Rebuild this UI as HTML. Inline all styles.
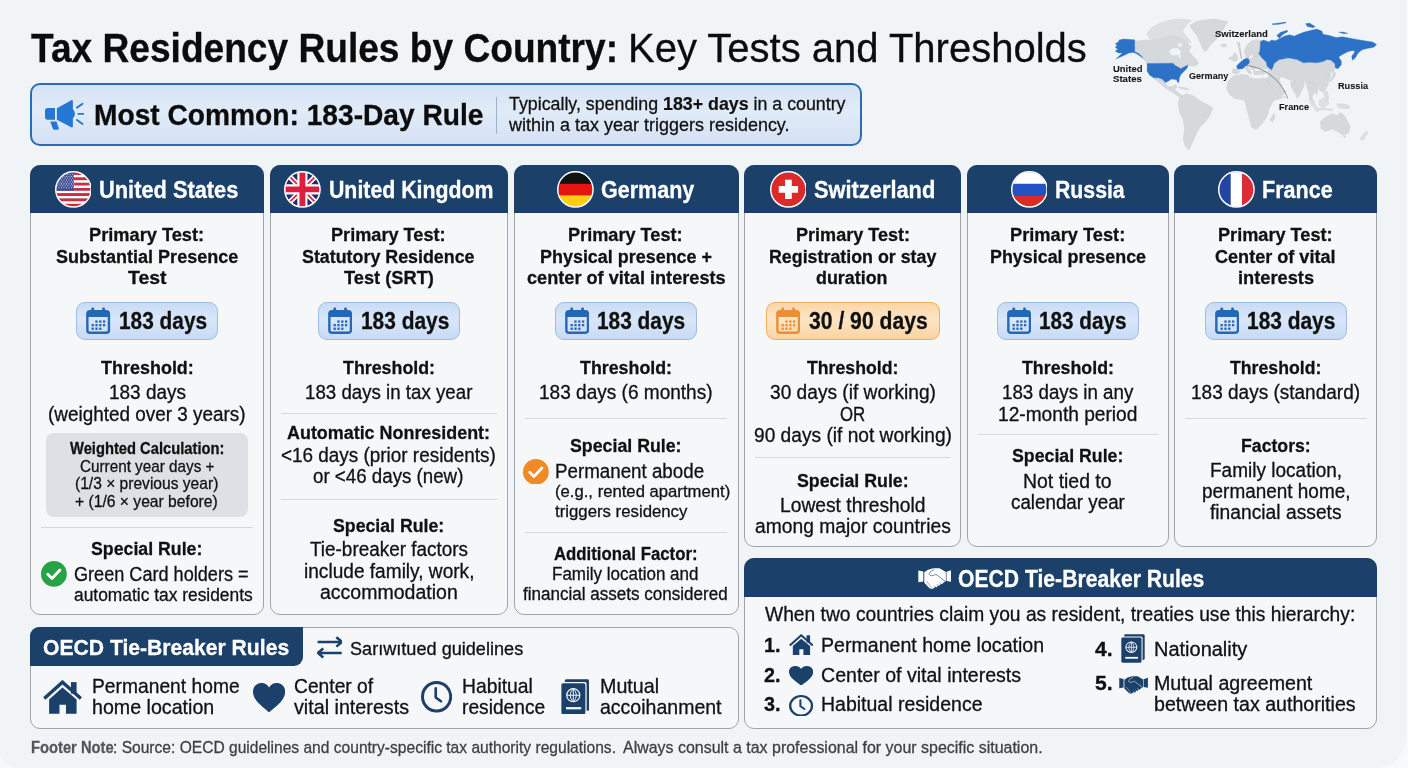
<!DOCTYPE html><html lang="en"><head><meta charset="utf-8"><title>Tax Residency Rules by Country</title><style>
*{box-sizing:border-box;margin:0;padding:0}
html,body{width:1408px;height:768px;overflow:hidden}
body{position:relative;background:#f8f9fb;font-family:"Liberation Sans",sans-serif;color:#111}
section,header,footer,figure{position:absolute;left:0;top:0;width:0;height:0}
body>div,section>*,header>*,footer>*,figure>*{position:absolute}
.t{white-space:pre;line-height:1;transform-origin:0 0;-webkit-text-stroke:0.3px currentColor}
.t b{-webkit-text-stroke:0.2px currentColor}
.hl{height:1px}
.page{left:0;top:0;width:1406px;height:768px;background:#f1f4f7;border-radius:0 0 30px 14px}
.card{background:#f5f7f9;border:1px solid #a0a5ac;border-radius:10px}
.hd{background:#1b4069;border-radius:10px 10px 0 0}
.pill{border-radius:9px;background:linear-gradient(#c9dcf6,#d8e6f9 45%,#d4e3f8 60%,#c7dbf5);border:1px solid #9dbde8}
.pillo{border-radius:9px;background:linear-gradient(#fbd6a6,#fde4c4 45%,#fce0bb 60%,#fad3a2);border:1px solid #efae62}
</style></head><body>
<div class="page"></div>
<header aria-label="title">
<h1 class="t" style="left:30.64px;top:26.90px;font-size:41.5px;font-weight:700;color:#0c0c0c;transform:scaleX(0.8942)">Tax Residency Rules by Country:</h1>
<div class="t" style="left:627.84px;top:26.90px;font-size:41.5px;font-weight:400;color:#0c0c0c;transform:scaleX(0.9639)">Key Tests and Thresholds</div>
</header>
<section aria-label="Most Common: 183-Day Rule">
<div style="left:30.0px;top:83.0px;width:831.5px;height:63.0px;background:linear-gradient(#d6e3f5,#e1ebf8 45%,#dde8f7 60%,#d5e2f4);border:2.5px solid #2b6cb5;border-radius:10px"></div>
<svg style="left:44.8px;top:99.9px" width="39.4" height="30.0" viewBox="70 175 315 240" preserveAspectRatio="none"><path d="M150 238H92a22 22 0 0 0-22 22v50a22 22 0 0 0 22 22h58z" fill="#2478d3"/>
<path d="M165 240L280 177q12-5 13 8v62q34 38 0 76v62q-1 13-13 8L165 332z" fill="#2478d3"/>
<path d="M112 346h50l18 52q3 14-10 14h-24q-10 0-14-10z" fill="#2478d3"/>
<path d="M326 236l44-31M336 286h48M326 334l44 33" stroke="#2478d3" stroke-width="15" stroke-linecap="round" fill="none"/></svg>
<div style="left:495.5px;top:96.5px;width:1.5px;height:37.0px;background:#9db1ca"></div>
<h2 class="t" style="left:94.19px;top:100.25px;font-size:30.2px;font-weight:700;color:#0c0c0c;transform:scaleX(0.9326)">Most Common: 183-Day Rule</h2>
<div class="t" style="left:509.24px;top:94.00px;font-size:19px;font-weight:400;color:#111;transform:scaleX(0.9366)">Typically, spending <b>183+ days</b> in a country</div>
<div class="t" style="left:509.24px;top:115.00px;font-size:19px;font-weight:400;color:#111;transform:scaleX(0.9465)">within a tax year triggers residency.</div>
</section>
<section aria-label="United States">
<div class="card" style="left:30.0px;top:165.0px;width:234.0px;height:450.0px;"></div>
<div class="hd" style="left:30.0px;top:165.0px;width:234.0px;height:48.0px;"></div>
<svg style="left:54.6px;top:171.0px" width="36.8" height="36.8" viewBox="0 0 40 40" ><defs><clipPath id="fcus"><circle cx="20" cy="20" r="18.600"/></clipPath></defs><g clip-path="url(#fcus)"><rect x="0" y="1.40" width="40" height="2.900" fill="#d8283c"/><rect x="0" y="4.26" width="40" height="2.900" fill="#fff"/><rect x="0" y="7.12" width="40" height="2.900" fill="#d8283c"/><rect x="0" y="9.99" width="40" height="2.900" fill="#fff"/><rect x="0" y="12.85" width="40" height="2.900" fill="#d8283c"/><rect x="0" y="15.71" width="40" height="2.900" fill="#fff"/><rect x="0" y="18.57" width="40" height="2.900" fill="#d8283c"/><rect x="0" y="21.43" width="40" height="2.900" fill="#fff"/><rect x="0" y="24.30" width="40" height="2.900" fill="#d8283c"/><rect x="0" y="27.16" width="40" height="2.900" fill="#fff"/><rect x="0" y="30.02" width="40" height="2.900" fill="#d8283c"/><rect x="0" y="32.88" width="40" height="2.900" fill="#fff"/><rect x="0" y="35.74" width="40" height="2.900" fill="#d8283c"/><rect x="0" y="0" width="20.500" height="21.400" fill="#3c4f94"/><circle cx="3.00" cy="3.50" r="0.550" fill="#fff"/><circle cx="5.70" cy="3.50" r="0.550" fill="#fff"/><circle cx="8.40" cy="3.50" r="0.550" fill="#fff"/><circle cx="11.10" cy="3.50" r="0.550" fill="#fff"/><circle cx="13.80" cy="3.50" r="0.550" fill="#fff"/><circle cx="16.50" cy="3.50" r="0.550" fill="#fff"/><circle cx="19.20" cy="3.50" r="0.550" fill="#fff"/><circle cx="4.35" cy="5.60" r="0.550" fill="#fff"/><circle cx="7.05" cy="5.60" r="0.550" fill="#fff"/><circle cx="9.75" cy="5.60" r="0.550" fill="#fff"/><circle cx="12.45" cy="5.60" r="0.550" fill="#fff"/><circle cx="15.15" cy="5.60" r="0.550" fill="#fff"/><circle cx="17.85" cy="5.60" r="0.550" fill="#fff"/><circle cx="20.55" cy="5.60" r="0.550" fill="#fff"/><circle cx="3.00" cy="7.70" r="0.550" fill="#fff"/><circle cx="5.70" cy="7.70" r="0.550" fill="#fff"/><circle cx="8.40" cy="7.70" r="0.550" fill="#fff"/><circle cx="11.10" cy="7.70" r="0.550" fill="#fff"/><circle cx="13.80" cy="7.70" r="0.550" fill="#fff"/><circle cx="16.50" cy="7.70" r="0.550" fill="#fff"/><circle cx="19.20" cy="7.70" r="0.550" fill="#fff"/><circle cx="4.35" cy="9.80" r="0.550" fill="#fff"/><circle cx="7.05" cy="9.80" r="0.550" fill="#fff"/><circle cx="9.75" cy="9.80" r="0.550" fill="#fff"/><circle cx="12.45" cy="9.80" r="0.550" fill="#fff"/><circle cx="15.15" cy="9.80" r="0.550" fill="#fff"/><circle cx="17.85" cy="9.80" r="0.550" fill="#fff"/><circle cx="20.55" cy="9.80" r="0.550" fill="#fff"/><circle cx="3.00" cy="11.90" r="0.550" fill="#fff"/><circle cx="5.70" cy="11.90" r="0.550" fill="#fff"/><circle cx="8.40" cy="11.90" r="0.550" fill="#fff"/><circle cx="11.10" cy="11.90" r="0.550" fill="#fff"/><circle cx="13.80" cy="11.90" r="0.550" fill="#fff"/><circle cx="16.50" cy="11.90" r="0.550" fill="#fff"/><circle cx="19.20" cy="11.90" r="0.550" fill="#fff"/><circle cx="4.35" cy="14.00" r="0.550" fill="#fff"/><circle cx="7.05" cy="14.00" r="0.550" fill="#fff"/><circle cx="9.75" cy="14.00" r="0.550" fill="#fff"/><circle cx="12.45" cy="14.00" r="0.550" fill="#fff"/><circle cx="15.15" cy="14.00" r="0.550" fill="#fff"/><circle cx="17.85" cy="14.00" r="0.550" fill="#fff"/><circle cx="20.55" cy="14.00" r="0.550" fill="#fff"/><circle cx="3.00" cy="16.10" r="0.550" fill="#fff"/><circle cx="5.70" cy="16.10" r="0.550" fill="#fff"/><circle cx="8.40" cy="16.10" r="0.550" fill="#fff"/><circle cx="11.10" cy="16.10" r="0.550" fill="#fff"/><circle cx="13.80" cy="16.10" r="0.550" fill="#fff"/><circle cx="16.50" cy="16.10" r="0.550" fill="#fff"/><circle cx="19.20" cy="16.10" r="0.550" fill="#fff"/><circle cx="4.35" cy="18.20" r="0.550" fill="#fff"/><circle cx="7.05" cy="18.20" r="0.550" fill="#fff"/><circle cx="9.75" cy="18.20" r="0.550" fill="#fff"/><circle cx="12.45" cy="18.20" r="0.550" fill="#fff"/><circle cx="15.15" cy="18.20" r="0.550" fill="#fff"/><circle cx="17.85" cy="18.20" r="0.550" fill="#fff"/><circle cx="20.55" cy="18.20" r="0.550" fill="#fff"/></g><circle cx="20" cy="20" r="19.200" fill="none" stroke="#fff" stroke-width="1.600"/></svg>
<div class="pill" style="left:76.0px;top:302.0px;width:142.2px;height:38.0px;"></div>
<svg style="left:86.4px;top:307.0px" width="24.3" height="27.0" viewBox="0 0 24 27" ><rect x="1.2" y="4.2" width="21.6" height="21.6" rx="2.6" fill="none" stroke="#2467b3" stroke-width="2.4"/>
<path d="M1.2 6.8a2.6 2.6 0 0 1 2.6-2.6h16.4a2.6 2.6 0 0 1 2.6 2.6v3.200H1.2z" fill="#2467b3"/>
<rect x="5.2" y="0.6" width="2.8" height="6" rx="1.2" fill="#2467b3"/><rect x="16" y="0.6" width="2.8" height="6" rx="1.2" fill="#2467b3"/>
<g fill="#2467b3"><rect x="9.2" y="13.4" width="2.3" height="2.3"/><rect x="13" y="13.4" width="2.3" height="2.3"/><rect x="16.8" y="13.4" width="2.3" height="2.3"/>
<rect x="5.4" y="17" width="2.3" height="2.3"/><rect x="9.2" y="17" width="2.3" height="2.3"/><rect x="13" y="17" width="2.3" height="2.3"/><rect x="16.8" y="17" width="2.3" height="2.3"/>
<rect x="5.4" y="20.6" width="2.3" height="2.3"/><rect x="9.2" y="20.6" width="2.3" height="2.3"/><rect x="13" y="20.6" width="2.3" height="2.3"/></g></svg>
<div style="left:45.6px;top:433.3px;width:202.8px;height:83.5px;background:#dde1e6;border-radius:8px"></div>
<div class="hl" style="left:41.3px;top:526.9px;width:211.3px;background:#d5d9de"></div>
<svg style="left:41.4px;top:561.2px" width="25.8" height="25.8" viewBox="0 0 24 24" ><circle cx="12" cy="12" r="12" fill="#27a346"/><path d="M6.3 12.4l3.9 3.9 7.4-7.9" fill="none" stroke="#fff" stroke-width="2.6" stroke-linecap="round" stroke-linejoin="round"/></svg>
<h3 class="t" style="left:99.06px;top:178.50px;font-size:23.5px;font-weight:700;color:#fff;transform:scaleX(0.9281)">United States</h3>
<div class="t" style="left:89.23px;top:225.30px;font-size:19.2px;font-weight:700;color:#111;transform:scaleX(0.9498)">Primary Test:</div>
<div class="t" style="left:55.83px;top:246.60px;font-size:19.2px;font-weight:700;color:#111;transform:scaleX(0.9389)">Substantial Presence</div>
<div class="t" style="left:127.73px;top:267.60px;font-size:19.2px;font-weight:700;color:#111;transform:scaleX(1.0133)">Test</div>
<div class="t" style="left:118.86px;top:310.00px;font-size:23.5px;font-weight:700;color:#111;transform:scaleX(0.8869)">183 days</div>
<div class="t" style="left:100.93px;top:357.50px;font-size:19.2px;font-weight:700;color:#111;transform:scaleX(0.9364)">Threshold:</div>
<div class="t" style="left:108.72px;top:383.10px;font-size:19.6px;font-weight:400;color:#111;transform:scaleX(0.9690)">183 days</div>
<div class="t" style="left:48.22px;top:404.50px;font-size:19.6px;font-weight:400;color:#111;transform:scaleX(0.9649)">(weighted over 3 years)</div>
<div class="t" style="left:69.75px;top:440.20px;font-size:16.2px;font-weight:700;color:#111;transform:scaleX(0.9099)">Weighted Calculation:</div>
<div class="t" style="left:79.74px;top:459.30px;font-size:16.6px;font-weight:400;color:#111;transform:scaleX(0.9196)">Current year days +</div>
<div class="t" style="left:75.14px;top:476.40px;font-size:16.6px;font-weight:400;color:#111;transform:scaleX(0.9389)">(1/3 × previous year)</div>
<div class="t" style="left:75.14px;top:493.80px;font-size:16.6px;font-weight:400;color:#111;transform:scaleX(0.9435)">+ (1/6 × year before)</div>
<div class="t" style="left:91.23px;top:538.70px;font-size:19.2px;font-weight:700;color:#111;transform:scaleX(0.9240)">Special Rule:</div>
<div class="t" style="left:73.52px;top:564.80px;font-size:19.6px;font-weight:400;color:#111;transform:scaleX(0.9238)">Green Card holders =</div>
<div class="t" style="left:73.55px;top:585.60px;font-size:18.8px;font-weight:400;color:#111;transform:scaleX(0.9253)">automatic tax residents</div>
</section>
<section aria-label="United Kingdom">
<div class="card" style="left:270.0px;top:165.0px;width:238.0px;height:450.0px;"></div>
<div class="hd" style="left:270.0px;top:165.0px;width:238.0px;height:48.0px;"></div>
<svg style="left:284.0px;top:171.0px" width="36.8" height="36.8" viewBox="0 0 40 40" ><defs><clipPath id="fcuk"><circle cx="20" cy="20" r="18.600"/></clipPath></defs><g clip-path="url(#fcuk)"><rect width="40" height="40" fill="#1f2f6e"/>
<path d="M2 2L38 38M38 2L2 38" stroke="#fff" stroke-width="5.6"/>
<path d="M2 2L38 38M38 2L2 38" stroke="#dc2340" stroke-width="1.9"/>
<path d="M20 0v40M0 20h40" stroke="#fff" stroke-width="11"/>
<path d="M20 0v40M0 20h40" stroke="#dc1f3c" stroke-width="6.4"/></g><circle cx="20" cy="20" r="19.200" fill="none" stroke="#fff" stroke-width="1.600"/></svg>
<div class="pill" style="left:318.0px;top:302.0px;width:142.2px;height:38.0px;"></div>
<svg style="left:328.0px;top:307.0px" width="24.3" height="27.0" viewBox="0 0 24 27" ><rect x="1.2" y="4.2" width="21.6" height="21.6" rx="2.6" fill="none" stroke="#2467b3" stroke-width="2.4"/>
<path d="M1.2 6.8a2.6 2.6 0 0 1 2.6-2.6h16.4a2.6 2.6 0 0 1 2.6 2.6v3.200H1.2z" fill="#2467b3"/>
<rect x="5.2" y="0.6" width="2.8" height="6" rx="1.2" fill="#2467b3"/><rect x="16" y="0.6" width="2.8" height="6" rx="1.2" fill="#2467b3"/>
<g fill="#2467b3"><rect x="9.2" y="13.4" width="2.3" height="2.3"/><rect x="13" y="13.4" width="2.3" height="2.3"/><rect x="16.8" y="13.4" width="2.3" height="2.3"/>
<rect x="5.4" y="17" width="2.3" height="2.3"/><rect x="9.2" y="17" width="2.3" height="2.3"/><rect x="13" y="17" width="2.3" height="2.3"/><rect x="16.8" y="17" width="2.3" height="2.3"/>
<rect x="5.4" y="20.6" width="2.3" height="2.3"/><rect x="9.2" y="20.6" width="2.3" height="2.3"/><rect x="13" y="20.6" width="2.3" height="2.3"/></g></svg>
<div class="hl" style="left:281.0px;top:412.5px;width:215.6px;background:#d5d9de"></div>
<div class="hl" style="left:281.0px;top:499.2px;width:215.6px;background:#d5d9de"></div>
<h3 class="t" style="left:329.06px;top:178.50px;font-size:23.5px;font-weight:700;color:#fff;transform:scaleX(0.9059)">United Kingdom</h3>
<div class="t" style="left:331.23px;top:225.30px;font-size:19.2px;font-weight:700;color:#111;transform:scaleX(0.9449)">Primary Test:</div>
<div class="t" style="left:302.23px;top:246.60px;font-size:19.2px;font-weight:700;color:#111;transform:scaleX(0.9299)">Statutory Residence</div>
<div class="t" style="left:343.83px;top:267.60px;font-size:19.2px;font-weight:700;color:#111;transform:scaleX(0.9515)">Test (SRT)</div>
<div class="t" style="left:360.66px;top:310.00px;font-size:23.5px;font-weight:700;color:#111;transform:scaleX(0.8889)">183 days</div>
<div class="t" style="left:343.13px;top:357.50px;font-size:19.2px;font-weight:700;color:#111;transform:scaleX(0.9283)">Threshold:</div>
<div class="t" style="left:305.12px;top:383.20px;font-size:19.6px;font-weight:400;color:#111;transform:scaleX(0.9544)">183 days in tax year</div>
<div class="t" style="left:287.23px;top:423.30px;font-size:19.2px;font-weight:700;color:#111;transform:scaleX(0.9336)">Automatic Nonresident:</div>
<div class="t" style="left:280.92px;top:445.60px;font-size:19.6px;font-weight:400;color:#111;transform:scaleX(0.9648)">&lt;16 days (prior residents)</div>
<div class="t" style="left:313.22px;top:466.70px;font-size:19.6px;font-weight:400;color:#111;transform:scaleX(0.9555)">or &lt;46 days (new)</div>
<div class="t" style="left:332.83px;top:515.60px;font-size:19.2px;font-weight:700;color:#111;transform:scaleX(0.9231)">Special Rule:</div>
<div class="t" style="left:310.22px;top:540.30px;font-size:19.6px;font-weight:400;color:#111;transform:scaleX(0.9650)">Tie-breaker factors</div>
<div class="t" style="left:303.82px;top:561.60px;font-size:19.6px;font-weight:400;color:#111;transform:scaleX(0.9744)">include family, work,</div>
<div class="t" style="left:319.82px;top:582.90px;font-size:19.6px;font-weight:400;color:#111;transform:scaleX(0.9960)">accommodation</div>
</section>
<section aria-label="Germany">
<div class="card" style="left:514.0px;top:165.0px;width:225.0px;height:450.0px;"></div>
<div class="hd" style="left:514.0px;top:165.0px;width:225.0px;height:48.0px;"></div>
<svg style="left:556.9px;top:171.0px" width="36.8" height="36.8" viewBox="0 0 40 40" ><defs><clipPath id="fcde"><circle cx="20" cy="20" r="18.600"/></clipPath></defs><g clip-path="url(#fcde)"><rect width="40" height="14" fill="#111"/><rect y="14" width="40" height="12.500" fill="#e4150f"/><rect y="26.500" width="40" height="14" fill="#fdcd10"/></g><circle cx="20" cy="20" r="19.200" fill="none" stroke="#fff" stroke-width="1.600"/></svg>
<div class="pill" style="left:555.0px;top:302.0px;width:142.0px;height:38.0px;"></div>
<svg style="left:565.0px;top:307.0px" width="24.3" height="27.0" viewBox="0 0 24 27" ><rect x="1.2" y="4.2" width="21.6" height="21.6" rx="2.6" fill="none" stroke="#2467b3" stroke-width="2.4"/>
<path d="M1.2 6.8a2.6 2.6 0 0 1 2.6-2.6h16.4a2.6 2.6 0 0 1 2.6 2.6v3.200H1.2z" fill="#2467b3"/>
<rect x="5.2" y="0.6" width="2.8" height="6" rx="1.2" fill="#2467b3"/><rect x="16" y="0.6" width="2.8" height="6" rx="1.2" fill="#2467b3"/>
<g fill="#2467b3"><rect x="9.2" y="13.4" width="2.3" height="2.3"/><rect x="13" y="13.4" width="2.3" height="2.3"/><rect x="16.8" y="13.4" width="2.3" height="2.3"/>
<rect x="5.4" y="17" width="2.3" height="2.3"/><rect x="9.2" y="17" width="2.3" height="2.3"/><rect x="13" y="17" width="2.3" height="2.3"/><rect x="16.8" y="17" width="2.3" height="2.3"/>
<rect x="5.4" y="20.6" width="2.3" height="2.3"/><rect x="9.2" y="20.6" width="2.3" height="2.3"/><rect x="13" y="20.6" width="2.3" height="2.3"/></g></svg>
<div class="hl" style="left:525.0px;top:417.9px;width:202.0px;background:#d5d9de"></div>
<svg style="left:523.1px;top:458.7px" width="25.8" height="25.8" viewBox="0 0 24 24" ><circle cx="12" cy="12" r="12" fill="#f08a24"/><path d="M6.3 12.4l3.9 3.9 7.4-7.9" fill="none" stroke="#fff" stroke-width="2.6" stroke-linecap="round" stroke-linejoin="round"/></svg>
<div class="hl" style="left:525.0px;top:532.2px;width:202.0px;background:#d5d9de"></div>
<h3 class="t" style="left:601.16px;top:178.50px;font-size:23.5px;font-weight:700;color:#fff;transform:scaleX(0.9155)">Germany</h3>
<div class="t" style="left:568.23px;top:225.30px;font-size:19.2px;font-weight:700;color:#111;transform:scaleX(0.9449)">Primary Test:</div>
<div class="t" style="left:540.03px;top:246.60px;font-size:19.2px;font-weight:700;color:#111;transform:scaleX(0.9350)">Physical presence +</div>
<div class="t" style="left:526.53px;top:267.60px;font-size:19.2px;font-weight:700;color:#111;transform:scaleX(0.9455)">center of vital interests</div>
<div class="t" style="left:597.46px;top:310.00px;font-size:23.5px;font-weight:700;color:#111;transform:scaleX(0.8879)">183 days</div>
<div class="t" style="left:580.23px;top:357.50px;font-size:19.2px;font-weight:700;color:#111;transform:scaleX(0.9283)">Threshold:</div>
<div class="t" style="left:539.22px;top:383.10px;font-size:19.6px;font-weight:400;color:#111;transform:scaleX(0.9717)">183 days (6 months)</div>
<div class="t" style="left:570.23px;top:436.00px;font-size:19.2px;font-weight:700;color:#111;transform:scaleX(0.9256)">Special Rule:</div>
<div class="t" style="left:555.22px;top:462.40px;font-size:19.6px;font-weight:400;color:#111;transform:scaleX(0.9569)">Permanent abode</div>
<div class="t" style="left:555.30px;top:483.20px;font-size:17.4px;font-weight:400;color:#111;transform:scaleX(0.9589)">(e.g., rented apartment)</div>
<div class="t" style="left:555.30px;top:502.70px;font-size:17.4px;font-weight:400;color:#111;transform:scaleX(0.9646)">triggers residency</div>
<div class="t" style="left:554.23px;top:544.00px;font-size:19.2px;font-weight:700;color:#111;transform:scaleX(0.8744)">Additional Factor:</div>
<div class="t" style="left:552.30px;top:566.00px;font-size:17.6px;font-weight:400;color:#111;transform:scaleX(0.9659)">Family location and</div>
<div class="t" style="left:523.30px;top:585.50px;font-size:17.6px;font-weight:400;color:#111;transform:scaleX(0.9690)">financial assets considered</div>
</section>
<section aria-label="Switzerland">
<div class="card" style="left:744.0px;top:165.0px;width:217.0px;height:382.0px;"></div>
<div class="hd" style="left:744.0px;top:165.0px;width:217.0px;height:48.0px;"></div>
<svg style="left:769.6px;top:171.0px" width="36.8" height="36.8" viewBox="0 0 40 40" ><defs><clipPath id="fcch"><circle cx="20" cy="20" r="18.600"/></clipPath></defs><g clip-path="url(#fcch)"><rect width="40" height="40" fill="#dc2a2a"/><path d="M16.300 9.500h7.400v6.800h6.800v7.400h-6.800v6.800h-7.400v-6.800H9.500v-7.400h6.800z" fill="#fff"/></g><circle cx="20" cy="20" r="19.200" fill="none" stroke="#fff" stroke-width="1.600"/></svg>
<div class="pillo" style="left:766.0px;top:302.0px;width:174.0px;height:38.0px;"></div>
<svg style="left:776.0px;top:307.0px" width="24.3" height="27.0" viewBox="0 0 24 27" ><rect x="1.2" y="4.2" width="21.6" height="21.6" rx="2.6" fill="none" stroke="#e98f3a" stroke-width="2.4"/>
<path d="M1.2 6.8a2.6 2.6 0 0 1 2.6-2.6h16.4a2.6 2.6 0 0 1 2.6 2.6v3.200H1.2z" fill="#e98f3a"/>
<rect x="5.2" y="0.6" width="2.8" height="6" rx="1.2" fill="#e98f3a"/><rect x="16" y="0.6" width="2.8" height="6" rx="1.2" fill="#e98f3a"/>
<g fill="#e98f3a"><rect x="9.2" y="13.4" width="2.3" height="2.3"/><rect x="13" y="13.4" width="2.3" height="2.3"/><rect x="16.8" y="13.4" width="2.3" height="2.3"/>
<rect x="5.4" y="17" width="2.3" height="2.3"/><rect x="9.2" y="17" width="2.3" height="2.3"/><rect x="13" y="17" width="2.3" height="2.3"/><rect x="16.8" y="17" width="2.3" height="2.3"/>
<rect x="5.4" y="20.6" width="2.3" height="2.3"/><rect x="9.2" y="20.6" width="2.3" height="2.3"/><rect x="13" y="20.6" width="2.3" height="2.3"/></g></svg>
<div class="hl" style="left:755.0px;top:456.9px;width:195.0px;background:#d5d9de"></div>
<h3 class="t" style="left:813.66px;top:178.50px;font-size:23.5px;font-weight:700;color:#fff;transform:scaleX(0.9287)">Switzerland</h3>
<div class="t" style="left:795.73px;top:225.30px;font-size:19.2px;font-weight:700;color:#111;transform:scaleX(0.9407)">Primary Test:</div>
<div class="t" style="left:769.13px;top:246.60px;font-size:19.2px;font-weight:700;color:#111;transform:scaleX(0.9286)">Registration or stay</div>
<div class="t" style="left:816.23px;top:267.60px;font-size:19.2px;font-weight:700;color:#111;transform:scaleX(0.9321)">duration</div>
<div class="t" style="left:809.26px;top:310.00px;font-size:23.5px;font-weight:700;color:#111;transform:scaleX(0.8993)">30 / 90 days</div>
<div class="t" style="left:807.13px;top:357.50px;font-size:19.2px;font-weight:700;color:#111;transform:scaleX(0.9213)">Threshold:</div>
<div class="t" style="left:769.82px;top:383.10px;font-size:19.6px;font-weight:400;color:#111;transform:scaleX(0.9769)">30 days (if working)</div>
<div class="t" style="left:840.22px;top:404.50px;font-size:19.6px;font-weight:400;color:#111;transform:scaleX(0.8597)">OR</div>
<div class="t" style="left:753.82px;top:425.70px;font-size:19.6px;font-weight:400;color:#111;transform:scaleX(0.9773)">90 days (if not working)</div>
<div class="t" style="left:796.83px;top:470.50px;font-size:19.2px;font-weight:700;color:#111;transform:scaleX(0.9264)">Special Rule:</div>
<div class="t" style="left:779.72px;top:496.00px;font-size:19.6px;font-weight:400;color:#111;transform:scaleX(0.9820)">Lowest threshold</div>
<div class="t" style="left:754.92px;top:517.40px;font-size:19.6px;font-weight:400;color:#111;transform:scaleX(0.9828)">among major countries</div>
</section>
<section aria-label="Russia">
<div class="card" style="left:967.0px;top:165.0px;width:202.0px;height:382.0px;"></div>
<div class="hd" style="left:967.0px;top:165.0px;width:202.0px;height:48.0px;"></div>
<svg style="left:1010.6px;top:171.0px" width="36.8" height="36.8" viewBox="0 0 40 40" ><defs><clipPath id="fcru"><circle cx="20" cy="20" r="18.600"/></clipPath></defs><g clip-path="url(#fcru)"><rect width="40" height="14" fill="#fff"/><rect y="14" width="40" height="12.500" fill="#2451c4"/><rect y="26.500" width="40" height="14" fill="#dc2b25"/></g><circle cx="20" cy="20" r="19.200" fill="none" stroke="#fff" stroke-width="1.600"/></svg>
<div class="pill" style="left:997.0px;top:302.0px;width:142.0px;height:38.0px;"></div>
<svg style="left:1007.0px;top:307.0px" width="24.3" height="27.0" viewBox="0 0 24 27" ><rect x="1.2" y="4.2" width="21.6" height="21.6" rx="2.6" fill="none" stroke="#2467b3" stroke-width="2.4"/>
<path d="M1.2 6.8a2.6 2.6 0 0 1 2.6-2.6h16.4a2.6 2.6 0 0 1 2.6 2.6v3.200H1.2z" fill="#2467b3"/>
<rect x="5.2" y="0.6" width="2.8" height="6" rx="1.2" fill="#2467b3"/><rect x="16" y="0.6" width="2.8" height="6" rx="1.2" fill="#2467b3"/>
<g fill="#2467b3"><rect x="9.2" y="13.4" width="2.3" height="2.3"/><rect x="13" y="13.4" width="2.3" height="2.3"/><rect x="16.8" y="13.4" width="2.3" height="2.3"/>
<rect x="5.4" y="17" width="2.3" height="2.3"/><rect x="9.2" y="17" width="2.3" height="2.3"/><rect x="13" y="17" width="2.3" height="2.3"/><rect x="16.8" y="17" width="2.3" height="2.3"/>
<rect x="5.4" y="20.6" width="2.3" height="2.3"/><rect x="9.2" y="20.6" width="2.3" height="2.3"/><rect x="13" y="20.6" width="2.3" height="2.3"/></g></svg>
<div class="hl" style="left:977.6px;top:433.7px;width:180.1px;background:#d5d9de"></div>
<h3 class="t" style="left:1054.76px;top:178.50px;font-size:23.5px;font-weight:700;color:#fff;transform:scaleX(0.9040)">Russia</h3>
<div class="t" style="left:1010.03px;top:225.30px;font-size:19.2px;font-weight:700;color:#111;transform:scaleX(0.9506)">Primary Test:</div>
<div class="t" style="left:989.73px;top:246.50px;font-size:19.2px;font-weight:700;color:#111;transform:scaleX(0.9317)">Physical presence</div>
<div class="t" style="left:1039.46px;top:310.00px;font-size:23.5px;font-weight:700;color:#111;transform:scaleX(0.8809)">183 days</div>
<div class="t" style="left:1021.63px;top:357.50px;font-size:19.2px;font-weight:700;color:#111;transform:scaleX(0.9273)">Threshold:</div>
<div class="t" style="left:1002.22px;top:383.10px;font-size:19.6px;font-weight:400;color:#111;transform:scaleX(0.9570)">183 days in any</div>
<div class="t" style="left:998.22px;top:404.60px;font-size:19.6px;font-weight:400;color:#111;transform:scaleX(0.9767)">12-month period</div>
<div class="t" style="left:1012.23px;top:446.00px;font-size:19.2px;font-weight:700;color:#111;transform:scaleX(0.9240)">Special Rule:</div>
<div class="t" style="left:1023.22px;top:471.70px;font-size:19.6px;font-weight:400;color:#111;transform:scaleX(0.9917)">Not tied to</div>
<div class="t" style="left:1010.72px;top:492.70px;font-size:19.6px;font-weight:400;color:#111;transform:scaleX(0.9590)">calendar year</div>
</section>
<section aria-label="France">
<div class="card" style="left:1174.0px;top:165.0px;width:203.0px;height:382.0px;"></div>
<div class="hd" style="left:1174.0px;top:165.0px;width:203.0px;height:48.0px;"></div>
<svg style="left:1218.4px;top:171.0px" width="36.8" height="36.8" viewBox="0 0 40 40" ><defs><clipPath id="fcfr"><circle cx="20" cy="20" r="18.600"/></clipPath></defs><g clip-path="url(#fcfr)"><rect width="13.800" height="40" fill="#2244a4"/><rect x="13.800" width="12.400" height="40" fill="#fff"/><rect x="26.200" width="14" height="40" fill="#e02b35"/></g><circle cx="20" cy="20" r="19.200" fill="none" stroke="#fff" stroke-width="1.600"/></svg>
<div class="pill" style="left:1205.0px;top:302.0px;width:142.0px;height:38.0px;"></div>
<svg style="left:1215.0px;top:307.0px" width="24.3" height="27.0" viewBox="0 0 24 27" ><rect x="1.2" y="4.2" width="21.6" height="21.6" rx="2.6" fill="none" stroke="#2467b3" stroke-width="2.4"/>
<path d="M1.2 6.8a2.6 2.6 0 0 1 2.6-2.6h16.4a2.6 2.6 0 0 1 2.6 2.6v3.200H1.2z" fill="#2467b3"/>
<rect x="5.2" y="0.6" width="2.8" height="6" rx="1.2" fill="#2467b3"/><rect x="16" y="0.6" width="2.8" height="6" rx="1.2" fill="#2467b3"/>
<g fill="#2467b3"><rect x="9.2" y="13.4" width="2.3" height="2.3"/><rect x="13" y="13.4" width="2.3" height="2.3"/><rect x="16.8" y="13.4" width="2.3" height="2.3"/>
<rect x="5.4" y="17" width="2.3" height="2.3"/><rect x="9.2" y="17" width="2.3" height="2.3"/><rect x="13" y="17" width="2.3" height="2.3"/><rect x="16.8" y="17" width="2.3" height="2.3"/>
<rect x="5.4" y="20.6" width="2.3" height="2.3"/><rect x="9.2" y="20.6" width="2.3" height="2.3"/><rect x="13" y="20.6" width="2.3" height="2.3"/></g></svg>
<div class="hl" style="left:1185.0px;top:417.7px;width:181.5px;background:#d5d9de"></div>
<h3 class="t" style="left:1262.46px;top:178.50px;font-size:23.5px;font-weight:700;color:#fff;transform:scaleX(0.9170)">France</h3>
<div class="t" style="left:1218.23px;top:225.30px;font-size:19.2px;font-weight:700;color:#111;transform:scaleX(0.9449)">Primary Test:</div>
<div class="t" style="left:1215.13px;top:246.50px;font-size:19.2px;font-weight:700;color:#111;transform:scaleX(0.9420)">Center of vital</div>
<div class="t" style="left:1237.73px;top:267.80px;font-size:19.2px;font-weight:700;color:#111;transform:scaleX(0.9506)">interests</div>
<div class="t" style="left:1247.06px;top:310.00px;font-size:23.5px;font-weight:700;color:#111;transform:scaleX(0.8899)">183 days</div>
<div class="t" style="left:1230.03px;top:357.50px;font-size:19.2px;font-weight:700;color:#111;transform:scaleX(0.9213)">Threshold:</div>
<div class="t" style="left:1191.22px;top:383.10px;font-size:19.6px;font-weight:400;color:#111;transform:scaleX(0.9701)">183 days (standard)</div>
<div class="t" style="left:1241.03px;top:435.50px;font-size:19.2px;font-weight:700;color:#111;transform:scaleX(0.9212)">Factors:</div>
<div class="t" style="left:1210.22px;top:461.10px;font-size:19.6px;font-weight:400;color:#111;transform:scaleX(0.9702)">Family location,</div>
<div class="t" style="left:1201.82px;top:482.00px;font-size:19.6px;font-weight:400;color:#111;transform:scaleX(0.9667)">permanent home,</div>
<div class="t" style="left:1210.22px;top:502.70px;font-size:19.6px;font-weight:400;color:#111;transform:scaleX(0.9821)">financial assets</div>
</section>
<section aria-label="OECD Tie-Breaker Rules hierarchy">
<div class="card" style="left:744.0px;top:558.0px;width:633.0px;height:171.0px;"></div>
<div class="hd" style="left:744.0px;top:558.0px;width:633.0px;height:39.0px;"></div>
<svg style="left:917.6px;top:567.6px" width="33.8" height="21.2" viewBox="185 185 540 340" preserveAspectRatio="none"><path d="M190 225L270 240V400L190 415Z" fill="#fff"/><path d="M640 245L720 220V405L640 395Z" fill="#fff"/>
<path d="M285 255L345 212L430 190H530L630 250V395L590 422L565 445L545 440L525 470L505 465L485 495L460 490L435 508L405 522L370 508L330 468L285 420Z" fill="#fff"/>
<path d="M440 212Q350 250 365 290Q400 330 470 285L612 392" fill="none" stroke="#1b4069" stroke-width="10" stroke-linecap="round" stroke-linejoin="round"/>
<path d="M545 440l-16-20M505 466l-16-20M462 490l-16-20M325 400L400 500" fill="none" stroke="#1b4069" stroke-width="7" stroke-linecap="round"/></svg>
<svg style="left:788.5px;top:634.0px" width="24.6" height="21.2" viewBox="56 398 314 272" preserveAspectRatio="none"><path d="M66 546L212 415L360 546" fill="none" stroke="#1b4069" stroke-width="27"/>
<rect x="280" y="415" width="45" height="92" fill="#1b4069"/>
<path d="M212 458L105 553V668H188V595H240V668H325V553Z" fill="#1b4069"/></svg>
<svg style="left:788.7px;top:665.6px" width="24.2" height="19.6" viewBox="72 420 258 235" preserveAspectRatio="none"><path d="M201 655C150 610 72 560 72 490C72 445 105 420 140 420C168 420 190 435 201 455C212 435 234 420 262 420C297 420 330 445 330 490C330 560 252 610 201 655Z" fill="#1b4069"/></svg>
<svg style="left:788.7px;top:694.5px" width="24.2" height="21.7" viewBox="72 329 250 250" preserveAspectRatio="none"><circle cx="197" cy="454" r="113" fill="none" stroke="#1b4069" stroke-width="24"/><path d="M190 388V460L232 490" fill="none" stroke="#1b4069" stroke-width="21" stroke-linecap="round" stroke-linejoin="round"/></svg>
<svg style="left:1121.0px;top:634.0px" width="24.0" height="29.0" viewBox="100 310 228 285" preserveAspectRatio="none"><rect x="130" y="312" width="195" height="253" rx="14" fill="#1b4069"/>
<rect x="92" y="335" width="213" height="268" rx="16" fill="#f5f7f9"/>
<rect x="103" y="345" width="192" height="247" rx="13" fill="#1b4069"/>
<circle cx="198" cy="440" r="52" fill="none" stroke="#f5f7f9" stroke-width="10"/>
<path d="M146 440h104M198 388v104M198 388c-32 30-32 74 0 104M198 388c32 30 32 74 0 104" fill="none" stroke="#f5f7f9" stroke-width="8"/>
<rect x="140" y="535" width="122" height="18" fill="#f5f7f9"/></svg>
<svg style="left:1119.0px;top:675.8px" width="29.2" height="18.0" viewBox="185 185 540 340" preserveAspectRatio="none"><path d="M190 225L270 240V400L190 415Z" fill="#1b4069"/><path d="M640 245L720 220V405L640 395Z" fill="#1b4069"/>
<path d="M285 255L345 212L430 190H530L630 250V395L590 422L565 445L545 440L525 470L505 465L485 495L460 490L435 508L405 522L370 508L330 468L285 420Z" fill="#1b4069"/>
<path d="M440 212Q350 250 365 290Q400 330 470 285L612 392" fill="none" stroke="#f5f7f9" stroke-width="10" stroke-linecap="round" stroke-linejoin="round"/>
<path d="M545 440l-16-20M505 466l-16-20M462 490l-16-20M325 400L400 500" fill="none" stroke="#f5f7f9" stroke-width="7" stroke-linecap="round"/></svg>
<h2 class="t" style="left:958.08px;top:568.00px;font-size:23px;font-weight:700;color:#fff;transform:scaleX(0.9191)">OECD Tie-Breaker Rules</h2>
<div class="t" style="left:765.18px;top:603.80px;font-size:20.4px;font-weight:400;color:#111;transform:scaleX(0.9435)">When two countries claim you as resident, treaties use this hierarchy:</div>
<div class="t" style="left:763.90px;top:635.00px;font-size:20px;font-weight:700;color:#111;transform:scaleX(0.9888)">1.</div>
<div class="t" style="left:820.70px;top:635.00px;font-size:20px;font-weight:400;color:#111;transform:scaleX(0.9788)">Permanent home location</div>
<div class="t" style="left:763.90px;top:664.50px;font-size:20px;font-weight:700;color:#111;transform:scaleX(0.9888)">2.</div>
<div class="t" style="left:820.70px;top:664.50px;font-size:20px;font-weight:400;color:#111;transform:scaleX(0.9783)">Center of vital interests</div>
<div class="t" style="left:763.90px;top:694.30px;font-size:20px;font-weight:700;color:#111;transform:scaleX(0.9888)">3.</div>
<div class="t" style="left:820.70px;top:694.30px;font-size:20px;font-weight:400;color:#111;transform:scaleX(0.9749)">Habitual residence</div>
<div class="t" style="left:1095.20px;top:639.00px;font-size:20px;font-weight:700;color:#111;transform:scaleX(1.0547)">4.</div>
<div class="t" style="left:1154.20px;top:639.00px;font-size:20px;font-weight:400;color:#111;transform:scaleX(0.9990)">Nationality</div>
<div class="t" style="left:1095.20px;top:672.60px;font-size:20px;font-weight:700;color:#111;transform:scaleX(1.0547)">5.</div>
<div class="t" style="left:1154.20px;top:672.60px;font-size:20px;font-weight:400;color:#111;transform:scaleX(0.9820)">Mutual agreement</div>
<div class="t" style="left:1154.20px;top:694.30px;font-size:20px;font-weight:400;color:#111;transform:scaleX(0.9801)">between tax authorities</div>
</section>
<section aria-label="OECD Tie-Breaker Rules summary">
<div class="card" style="left:30.0px;top:627.0px;width:709.0px;height:102.0px;"></div>
<div style="left:30.0px;top:627.0px;width:272.5px;height:39.0px;background:#1b4069;border-radius:9px 0 9px 0"></div>
<svg style="left:316.5px;top:636.2px" width="25.6" height="22.8" viewBox="580 50 205 182" preserveAspectRatio="none"><path d="M585 97H772M735 60L780 97L735 135M778 185H595M630 150L588 185L630 222" fill="none" stroke="#1b4069" stroke-width="20" stroke-linecap="butt" stroke-linejoin="miter"/></svg>
<svg style="left:43.0px;top:679.8px" width="39.2" height="34.0" viewBox="56 398 314 272" preserveAspectRatio="none"><path d="M66 546L212 415L360 546" fill="none" stroke="#1b4069" stroke-width="27"/>
<rect x="280" y="415" width="45" height="92" fill="#1b4069"/>
<path d="M212 458L105 553V668H188V595H240V668H325V553Z" fill="#1b4069"/></svg>
<svg style="left:253.0px;top:682.5px" width="32.2" height="29.4" viewBox="72 420 258 235" preserveAspectRatio="none"><path d="M201 655C150 610 72 560 72 490C72 445 105 420 140 420C168 420 190 435 201 455C212 435 234 420 262 420C297 420 330 445 330 490C330 560 252 610 201 655Z" fill="#1b4069"/></svg>
<svg style="left:421.0px;top:681.0px" width="31.2" height="31.5" viewBox="72 329 250 250" preserveAspectRatio="none"><circle cx="197" cy="454" r="113" fill="none" stroke="#1b4069" stroke-width="24"/><path d="M190 388V460L232 490" fill="none" stroke="#1b4069" stroke-width="21" stroke-linecap="round" stroke-linejoin="round"/></svg>
<svg style="left:560.5px;top:678.8px" width="28.5" height="35.6" viewBox="100 310 228 285" preserveAspectRatio="none"><rect x="130" y="312" width="195" height="253" rx="14" fill="#1b4069"/>
<rect x="92" y="335" width="213" height="268" rx="16" fill="#f5f7f9"/>
<rect x="103" y="345" width="192" height="247" rx="13" fill="#1b4069"/>
<circle cx="198" cy="440" r="52" fill="none" stroke="#f5f7f9" stroke-width="10"/>
<path d="M146 440h104M198 388v104M198 388c-32 30-32 74 0 104M198 388c32 30 32 74 0 104" fill="none" stroke="#f5f7f9" stroke-width="8"/>
<rect x="140" y="535" width="122" height="18" fill="#f5f7f9"/></svg>
<h2 class="t" style="left:43.39px;top:635.50px;font-size:22.8px;font-weight:700;color:#fff;transform:scaleX(0.9265)">OECD Tie-Breaker Rules</h2>
<div class="t" style="left:349.50px;top:640.50px;font-size:17.6px;font-weight:400;color:#111;transform:scaleX(1.0296)">Sarıwıtued guidelines</div>
<div class="t" style="left:91.98px;top:676.20px;font-size:20.4px;font-weight:400;color:#111;transform:scaleX(0.9438)">Permanent home</div>
<div class="t" style="left:91.98px;top:696.70px;font-size:20.4px;font-weight:400;color:#111;transform:scaleX(0.9627)">home location</div>
<div class="t" style="left:294.18px;top:676.20px;font-size:20.4px;font-weight:400;color:#111;transform:scaleX(0.9435)">Center of</div>
<div class="t" style="left:294.18px;top:696.70px;font-size:20.4px;font-weight:400;color:#111;transform:scaleX(0.9667)">vital interests</div>
<div class="t" style="left:461.98px;top:676.20px;font-size:20.4px;font-weight:400;color:#111;transform:scaleX(0.9468)">Habitual</div>
<div class="t" style="left:461.98px;top:696.70px;font-size:20.4px;font-weight:400;color:#111;transform:scaleX(0.9402)">residence</div>
<div class="t" style="left:600.38px;top:676.20px;font-size:20.4px;font-weight:400;color:#111;transform:scaleX(0.9645)">Mutual</div>
<div class="t" style="left:600.38px;top:696.70px;font-size:20.4px;font-weight:400;color:#111;transform:scaleX(0.9572)">accoihanment</div>
</section>
<footer aria-label="footer">
<p class="t" style="left:30.70px;top:738.80px;font-size:17.4px;font-weight:700;color:#53565b;transform:scaleX(0.8464)">Footer Note</p>
<p class="t" style="left:112.70px;top:738.80px;font-size:17.4px;font-weight:400;color:#3c3f44;transform:scaleX(0.8956)">: Source: OECD guidelines and country-specific tax authority regulations.</p>
<p class="t" style="left:623.10px;top:738.80px;font-size:17.4px;font-weight:400;color:#3c3f44;transform:scaleX(0.9177)">Always consult a tax professional for your specific situation.</p>
</footer>
<figure aria-label="map">
<svg style="left:1100px;top:0px" width="308" height="160" viewBox="1100 0 308 160"><path d="M1147.1 33.5L1151.0 28.3L1160.1 23.1L1170.5 19.9L1180.9 19.2L1191.3 20.5L1186.1 25.7L1182.2 30.9L1186.1 36.1L1191.3 42.6L1186.1 42.0L1180.9 38.7L1173.1 36.1L1165.3 37.4L1157.5 40.7L1149.7 38.7Z" fill="#dde0e3" stroke="#c6cbcf" stroke-width="0.4" stroke-linejoin="round"/><path d="M1134.7 41.3L1147.1 40.0L1157.5 40.7L1165.3 37.4L1173.1 36.1L1180.9 38.7L1186.1 42.0L1191.3 46.6L1188.7 51.1L1192.6 55.7L1196.5 59.6L1198.5 64.1L1193.9 66.1L1190.0 65.4L1188.1 65.0L1184.2 66.7L1180.9 68.7L1179.0 67.4L1175.1 65.4L1173.1 63.2L1147.1 63.5L1143.2 58.3L1141.2 55.7L1137.9 53.1L1134.7 51.8Z" fill="#d5d9dc" stroke="#c6cbcf" stroke-width="0.4" stroke-linejoin="round"/><path d="M1169.2 51.1L1171.8 48.5L1177.0 48.1L1180.9 51.1L1180.3 54.4L1180.9 58.3L1179.0 57.6L1177.7 55.0L1173.1 55.4L1170.2 53.7Z" fill="#f1f4f7"/><path d="M1177.7 44.6L1180.3 42.9L1182.9 44.6L1180.9 46.6L1178.3 46.6Z" fill="#f1f4f7"/><path d="M1189.5 25.7L1196.0 21.8L1203.8 19.9L1215.5 19.2L1227.9 21.8L1225.3 25.7L1222.0 30.9L1219.4 36.1L1215.5 40.0L1210.3 45.2L1206.4 51.1L1203.8 50.5L1201.2 45.2L1198.0 37.4L1193.4 30.9Z" fill="#d5d9dc" stroke="#c6cbcf" stroke-width="0.4" stroke-linejoin="round"/><path d="M1220.7 44.6L1225.9 43.9L1226.6 46.3L1222.0 46.8Z" fill="#d5d9dc" stroke="#c6cbcf" stroke-width="0.4" stroke-linejoin="round"/><path d="M1231.4 57.6L1234.4 53.1L1237.0 54.4L1237.7 59.6L1235.1 61.5L1232.1 60.6Z" fill="#d5d9dc" stroke="#c6cbcf" stroke-width="0.4" stroke-linejoin="round"/><path d="M1229.2 57.6L1230.9 57.0L1230.9 59.6L1229.3 59.6Z" fill="#d5d9dc" stroke="#c6cbcf" stroke-width="0.4" stroke-linejoin="round"/><path d="M1153.6 78.1L1158.1 78.1L1162.0 79.4L1165.3 82.8L1166.6 85.6L1169.2 86.9L1173.1 86.3L1175.7 84.3L1177.3 86.9L1174.7 89.5L1177.3 92.1L1180.9 94.7L1184.8 97.3L1183.5 98.9L1179.0 96.8L1174.4 93.4L1169.2 90.2L1164.0 86.9L1159.4 83.0L1156.2 80.4Z" fill="#d5d9dc" stroke="#c6cbcf" stroke-width="0.4" stroke-linejoin="round"/><path d="M1179.0 86.9L1184.2 87.6L1188.7 89.3L1188.1 90.3L1182.9 89.0L1179.0 88.0Z" fill="#d5d9dc" stroke="#c6cbcf" stroke-width="0.4" stroke-linejoin="round"/><path d="M1182.2 96.1L1186.1 93.6L1193.9 95.9L1199.8 100.8L1205.7 103.8L1212.7 107.7L1209.8 115.5L1205.7 121.3L1199.8 127.2L1195.9 135.0L1192.2 142.8L1189.2 149.8L1185.3 146.7L1183.2 138.9L1184.6 129.1L1183.2 119.4L1179.3 111.6L1178.3 103.8L1179.3 98.9Z" fill="#d5d9dc" stroke="#c6cbcf" stroke-width="0.4" stroke-linejoin="round"/><path d="M1244.2 51.8L1246.8 45.2L1252.0 40.7L1258.5 39.4L1260.5 41.3L1259.8 51.8L1257.2 57.0L1253.3 57.6L1252.0 53.1L1249.4 57.0L1247.4 59.6L1245.5 57.0Z" fill="#d5d9dc" stroke="#c6cbcf" stroke-width="0.4" stroke-linejoin="round"/><path d="M1232.8 68.7L1237.7 69.3L1239.9 71.9L1235.1 74.2L1232.5 72.6Z" fill="#d5d9dc" stroke="#c6cbcf" stroke-width="0.4" stroke-linejoin="round"/><path d="M1244.8 66.7L1247.0 66.3L1250.7 71.3L1251.7 73.6L1249.4 73.9L1246.1 70.0Z" fill="#d5d9dc" stroke="#c6cbcf" stroke-width="0.4" stroke-linejoin="round"/><path d="M1248.7 64.1L1249.6 58.9L1253.3 57.6L1257.2 57.0L1258.5 53.1L1261.1 57.0L1266.3 62.2L1267.0 66.1L1268.9 68.7L1263.7 69.2L1258.5 68.7L1253.9 70.2L1252.0 69.3L1249.4 66.3Z" fill="#d5d9dc" stroke="#c6cbcf" stroke-width="0.4" stroke-linejoin="round"/><path d="M1253.3 71.6L1263.7 70.2L1267.6 71.9L1264.0 74.2L1254.6 74.7Z" fill="#d5d9dc" stroke="#c6cbcf" stroke-width="0.4" stroke-linejoin="round"/><path d="M1227.9 81.7L1232.5 76.5L1240.3 74.5L1248.1 75.2L1250.7 77.8L1257.2 78.5L1263.7 77.8L1267.0 79.1L1268.9 81.7L1272.8 89.5L1276.7 94.7L1280.6 97.3L1286.1 96.7L1274.1 100.2L1269.4 107.7L1267.4 115.5L1262.3 123.3L1256.5 129.5L1251.6 127.2L1249.6 119.4L1247.1 110.6L1246.1 105.1L1244.2 99.9L1235.1 98.6L1229.9 94.7L1226.6 88.2Z" fill="#d5d9dc" stroke="#c6cbcf" stroke-width="0.4" stroke-linejoin="round"/><path d="M1270.2 119.4L1273.7 113.5L1275.2 116.4L1272.3 122.5Z" fill="#d5d9dc" stroke="#c6cbcf" stroke-width="0.4" stroke-linejoin="round"/><path d="M1267.0 79.1L1268.9 75.2L1274.1 77.8L1279.3 79.1L1281.9 86.9L1286.1 92.1L1280.9 96.8L1275.7 93.7L1271.5 86.9Z" fill="#d5d9dc" stroke="#c6cbcf" stroke-width="0.4" stroke-linejoin="round"/><path d="M1266.3 66.1L1272.8 67.4L1274.1 63.5L1279.3 59.6L1287.1 58.3L1296.0 58.9L1297.0 59.6L1303.5 62.8L1310.0 62.2L1316.6 62.8L1323.1 61.5L1327.0 59.6L1330.9 60.2L1334.8 63.5L1335.4 68.0L1333.5 71.3L1329.6 73.9L1327.0 76.5L1328.9 79.1L1328.3 84.3L1325.7 89.5L1321.8 92.1L1319.2 89.5L1315.2 85.0L1306.1 81.7L1304.8 81.7L1303.5 86.9L1299.6 94.7L1297.7 98.6L1294.4 92.1L1291.2 86.9L1290.5 81.7L1296.0 81.7L1287.1 79.1L1281.9 76.5L1279.3 79.1L1274.1 77.8L1268.9 75.2L1267.0 71.9L1268.9 68.7Z" fill="#d5d9dc" stroke="#c6cbcf" stroke-width="0.4" stroke-linejoin="round"/><path d="M1306.1 81.7L1315.2 84.3L1317.9 89.5L1316.6 94.7L1313.9 92.1L1312.0 97.3L1314.6 103.8L1313.3 105.1L1310.0 99.9L1308.7 92.1L1306.8 86.9Z" fill="#d5d9dc" stroke="#c6cbcf" stroke-width="0.4" stroke-linejoin="round"/><path d="M1328.0 73.2L1330.9 75.2L1329.6 79.1L1327.6 77.8Z" fill="#d5d9dc" stroke="#c6cbcf" stroke-width="0.4" stroke-linejoin="round"/><path d="M1333.5 71.3L1336.1 73.2L1334.1 77.8L1330.9 81.7L1329.6 80.4L1332.2 76.5Z" fill="#d5d9dc" stroke="#c6cbcf" stroke-width="0.4" stroke-linejoin="round"/><path d="M1323.1 92.1L1327.0 90.8L1328.9 98.6L1325.7 99.9Z" fill="#dde0e3" stroke="#c6cbcf" stroke-width="0.4" stroke-linejoin="round"/><path d="M1319.2 99.9L1327.0 97.3L1328.9 103.8L1323.1 107.8L1319.2 105.1Z" fill="#dde0e3" stroke="#c6cbcf" stroke-width="0.4" stroke-linejoin="round"/><path d="M1308.7 98.6L1312.0 99.9L1319.2 110.4L1317.2 111.7L1310.7 103.8Z" fill="#dde0e3" stroke="#c6cbcf" stroke-width="0.4" stroke-linejoin="round"/><path d="M1319.0 108.2L1332.7 109.2L1332.7 110.4L1319.4 109.6Z" fill="#dde0e3" stroke="#c6cbcf" stroke-width="0.4" stroke-linejoin="round"/><path d="M1336.6 103.8L1344.4 104.1L1349.8 106.1L1348.7 108.8L1338.9 107.7Z" fill="#dde0e3" stroke="#c6cbcf" stroke-width="0.4" stroke-linejoin="round"/><path d="M1320.4 121.3L1326.8 116.4L1332.7 113.5L1336.6 115.7L1340.5 112.5L1344.4 115.5L1347.5 121.3L1350.2 127.2L1348.5 133.0L1343.6 135.2L1338.5 132.3L1332.7 129.3L1324.8 131.3L1321.1 128.4Z" fill="#d5d9dc" stroke="#c6cbcf" stroke-width="0.4" stroke-linejoin="round"/><path d="M1343.2 135.8L1345.5 135.8L1344.8 137.9Z" fill="#d5d9dc" stroke="#c6cbcf" stroke-width="0.4" stroke-linejoin="round"/><path d="M1360.0 139.1L1365.9 131.1L1368.0 132.3L1363.1 140.3Z" fill="#dde0e3" stroke="#c6cbcf" stroke-width="0.4" stroke-linejoin="round"/><path d="M1119.1 40.0L1123.6 39.0L1134.7 39.8L1134.7 51.8L1137.9 53.1L1141.2 55.7L1143.2 58.3L1139.9 55.9L1136.6 53.7L1133.4 52.4L1128.8 53.1L1124.9 55.0L1120.4 57.0L1115.8 58.9L1119.7 55.4L1122.3 53.1L1118.4 53.1L1115.2 51.1L1117.8 49.2L1115.2 47.2L1117.1 45.2L1115.2 43.7L1118.4 42.0Z" fill="#2d72c6" stroke="#2d72c6" stroke-width="0.3" stroke-linejoin="round"/><path d="M1147.1 63.5L1173.1 63.2L1175.1 65.4L1179.0 67.4L1180.9 68.7L1184.2 66.7L1188.1 65.0L1187.2 68.0L1184.2 71.3L1180.9 74.5L1179.4 77.8L1179.0 81.7L1178.1 83.0L1176.4 79.8L1171.8 79.1L1167.2 81.7L1165.3 82.4L1162.0 79.1L1158.1 77.8L1153.6 77.8L1149.7 75.2L1147.1 71.3Z" fill="#2d72c6" stroke="#2d72c6" stroke-width="0.3" stroke-linejoin="round"/><path d="M1260.5 41.3L1263.7 40.0L1268.9 42.0L1271.5 40.0L1275.4 40.7L1279.3 38.7L1284.5 36.1L1289.8 34.8L1296.0 36.8L1293.1 36.8L1297.0 34.8L1303.5 32.2L1311.3 30.3L1316.6 29.0L1321.8 30.9L1323.1 34.2L1329.6 35.5L1336.1 37.4L1342.6 36.8L1349.1 38.1L1356.9 39.4L1364.7 40.7L1372.5 42.0L1376.7 44.6L1373.8 47.2L1367.3 48.5L1362.1 49.8L1358.2 53.1L1355.0 58.3L1352.4 60.2L1351.7 56.3L1355.0 51.8L1353.0 50.5L1347.8 51.8L1342.6 54.4L1338.7 57.0L1341.3 60.9L1341.3 64.8L1338.0 68.7L1335.4 68.0L1334.8 63.5L1330.9 60.2L1327.0 59.6L1323.1 61.5L1316.6 62.8L1310.0 62.2L1303.5 62.8L1297.0 59.6L1290.5 58.3L1284.0 57.6L1287.1 58.3L1279.3 59.6L1274.1 63.5L1272.8 67.4L1271.5 70.0L1267.0 66.1L1266.3 62.2L1261.1 57.0L1258.5 53.1L1259.8 51.8Z" fill="#2d72c6" stroke="#2d72c6" stroke-width="0.3" stroke-linejoin="round"/><path d="M1276.7 35.5L1280.6 32.2L1287.1 30.3L1287.9 31.6L1283.2 34.2L1279.3 38.2Z" fill="#2d72c6" stroke="#2d72c6" stroke-width="0.3" stroke-linejoin="round"/><path d="M1305.5 23.8L1309.4 23.1L1315.2 26.4L1313.3 27.8L1307.4 26.4Z" fill="#2d72c6" stroke="#2d72c6" stroke-width="0.3" stroke-linejoin="round"/><path d="M1272.2 23.8L1279.3 22.9L1285.8 22.1L1285.8 23.1L1279.3 24.2L1272.8 24.7Z" fill="#2d72c6" stroke="#2d72c6" stroke-width="0.3" stroke-linejoin="round"/><path d="M1338.7 32.2L1343.2 32.0L1347.8 33.3L1343.9 33.8Z" fill="#2d72c6" stroke="#2d72c6" stroke-width="0.3" stroke-linejoin="round"/><path d="M1237.0 65.4L1240.3 62.2L1244.2 58.9L1248.1 58.3L1249.6 60.9L1248.7 64.1L1245.5 66.1L1242.9 68.7L1238.3 69.3L1236.6 67.6Z" fill="#2d72c6" stroke="#2d72c6" stroke-width="0.3" stroke-linejoin="round"/><path d="M1248.1 75.5L1253.3 74.9L1263.7 76.2L1263.4 78.1L1257.2 78.6L1250.7 77.8Z" fill="#f1f4f7"/><path d="M1254.9 68.3L1263.7 69.2L1263.1 70.2L1255.2 70.2Z" fill="#f1f4f7"/><path d="M1245.5 65.4C1266.3 67.4 1281.9 81.7 1287.8 98.6" fill="none" stroke="#555" stroke-width="0.6"/><path d="M1237.4 42.0L1241.6 58.9L1239.2 42.0" fill="none" stroke="#888" stroke-width="0.4"/></svg>
<div class="t" style="left:1215.42px;top:28.80px;font-size:9.6px;font-weight:700;color:#161616;-webkit-text-stroke-width:0.1px;transform:scaleX(0.9917)">Switzerland</div>
<div class="t" style="left:1113.12px;top:63.50px;font-size:9.6px;font-weight:700;color:#161616;-webkit-text-stroke-width:0.1px;transform:scaleX(0.9869)">United</div>
<div class="t" style="left:1113.12px;top:74.30px;font-size:9.6px;font-weight:700;color:#161616;-webkit-text-stroke-width:0.1px;transform:scaleX(1.0025)">States</div>
<div class="t" style="left:1188.62px;top:71.20px;font-size:9.6px;font-weight:700;color:#161616;-webkit-text-stroke-width:0.1px;transform:scaleX(0.9441)">Germany</div>
<div class="t" style="left:1337.62px;top:80.90px;font-size:9.6px;font-weight:700;color:#161616;-webkit-text-stroke-width:0.1px;transform:scaleX(0.9555)">Russia</div>
<div class="t" style="left:1278.62px;top:101.60px;font-size:9.6px;font-weight:700;color:#161616;-webkit-text-stroke-width:0.1px;transform:scaleX(0.9523)">France</div>
</figure>
</body></html>
